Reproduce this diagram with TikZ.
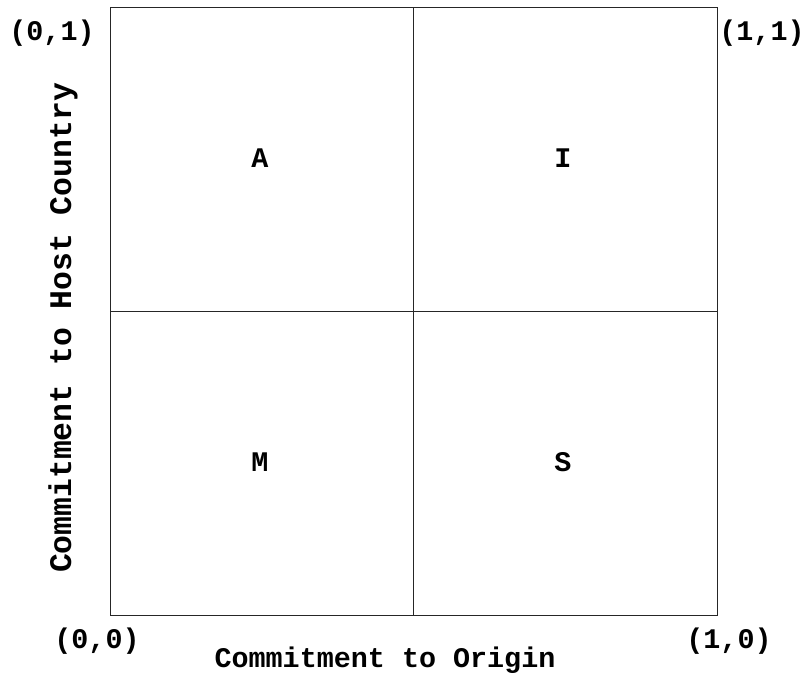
\documentclass[tikz,border=0pt]{standalone}
\usepackage{fontspec}
\setmonofont{Liberation Mono}
\usetikzlibrary{positioning}

\tikzset{
  lbl/.style={font=\ttfamily\bfseries\fontsize{14.2}{17}\selectfont, inner sep=0pt, anchor=base},
  grid line/.style={draw=black!85, line width=0.5pt}
}

\begin{document}
\begin{tikzpicture}[x=0.5pt, y=-0.5pt]
  \useasboundingbox (0,0) rectangle (805,677);

  % Cuadro
  \coordinate (sw) at (110,615);
  \coordinate (ne) at (717,7);
  \coordinate (top) at (413,7);
  \coordinate (bot) at (413,615);
  \coordinate (lft) at (110,311);
  \coordinate (rgt) at (717,311);
  \draw[grid line] (sw) rectangle (ne);
  \draw[grid line] (top) -- (bot);
  \draw[grid line] (lft) -- (rgt);

  % Cuadrantes
  \node[lbl] (qa) at (260,167) {A};
  \node[lbl] (qi) at (563,167) {I};
  \node[lbl] (qm) at (260,471) {M};
  \node[lbl] (qs) at (563,471) {S};

  % Esquinas
  \node[lbl] (c01) at (52,40) {(0,1)};
  \node[lbl] (c11) at (762,40) {(1,1)};
  \node[lbl] (c00) at (97,648) {(0,0)};
  \node[lbl] (c10) at (729,648) {(1,0)};

  % Ejes
  \node[lbl] (xlab) at (385,667) {Commitment to Origin};
  \node[lbl, rotate=90, font=\ttfamily\bfseries\fontsize{15.7}{19}\selectfont] (ylab) at (71,328) {Commitment to Host Country};
\end{tikzpicture}
\end{document}
